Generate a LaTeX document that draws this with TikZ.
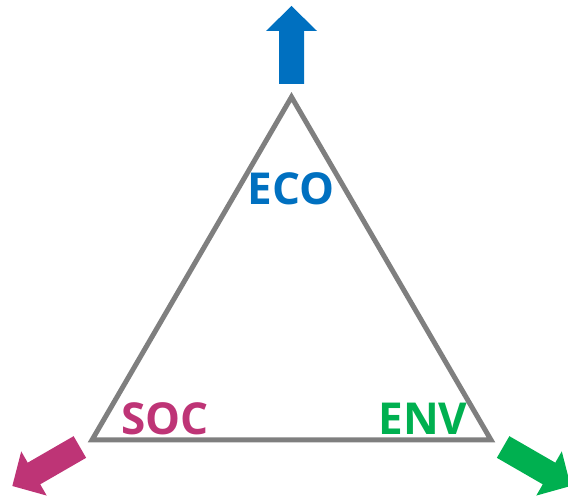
\documentclass[tikz,border=0pt]{standalone}
\usepackage{fontspec}
\setmainfont{Open Sans}
\usetikzlibrary{calc}
\definecolor{EcoBlue}{RGB}{0, 112, 192}
\definecolor{SocMagenta}{RGB}{190, 52, 118}
\definecolor{EnvGreen}{RGB}{0, 176, 80}
\definecolor{EdgeGrey}{RGB}{127, 127, 127}
\tikzset{
    bigarrow/.pic={
        \path[pic actions] (0,-12.5) -- (53,-12.5) -- (53,-25.5) -- (78,0)
            -- (53,25.5) -- (53,12.5) -- (0,12.5) -- cycle;
    },
    pillar/.style={font=\bfseries\fontsize{33}{37}\selectfont, inner sep=0pt}
}

\begin{document}
\begin{tikzpicture}[x=0.75pt, y=0.75pt]
    \useasboundingbox (0,0) rectangle (568,499);

    % Triangulo
    \coordinate (eco) at (291.5,402);
    \coordinate (soc) at (92,59);
    \coordinate (env) at (491,59);
    \draw[EdgeGrey, line width=3.75pt, line join=miter] (eco) -- (soc) -- (env) -- cycle;

    % Flechas
    \pic[fill=EcoBlue, rotate=90] at ($(eco)+(90:13)$) {bigarrow};
    \pic[fill=SocMagenta, rotate=210] at ($(soc)+(210:14)$) {bigarrow};
    \pic[fill=EnvGreen, rotate=-30] at ($(env)+(-30:14)$) {bigarrow};

    % Etiquetas
    \node[pillar, text=EcoBlue] (ecolabel) at (291,310) {ECO};
    \node[pillar, text=SocMagenta] (soclabel) at (165,80) {SOC};
    \node[pillar, text=EnvGreen] (envlabel) at (423,80) {ENV};
\end{tikzpicture}
\end{document}
